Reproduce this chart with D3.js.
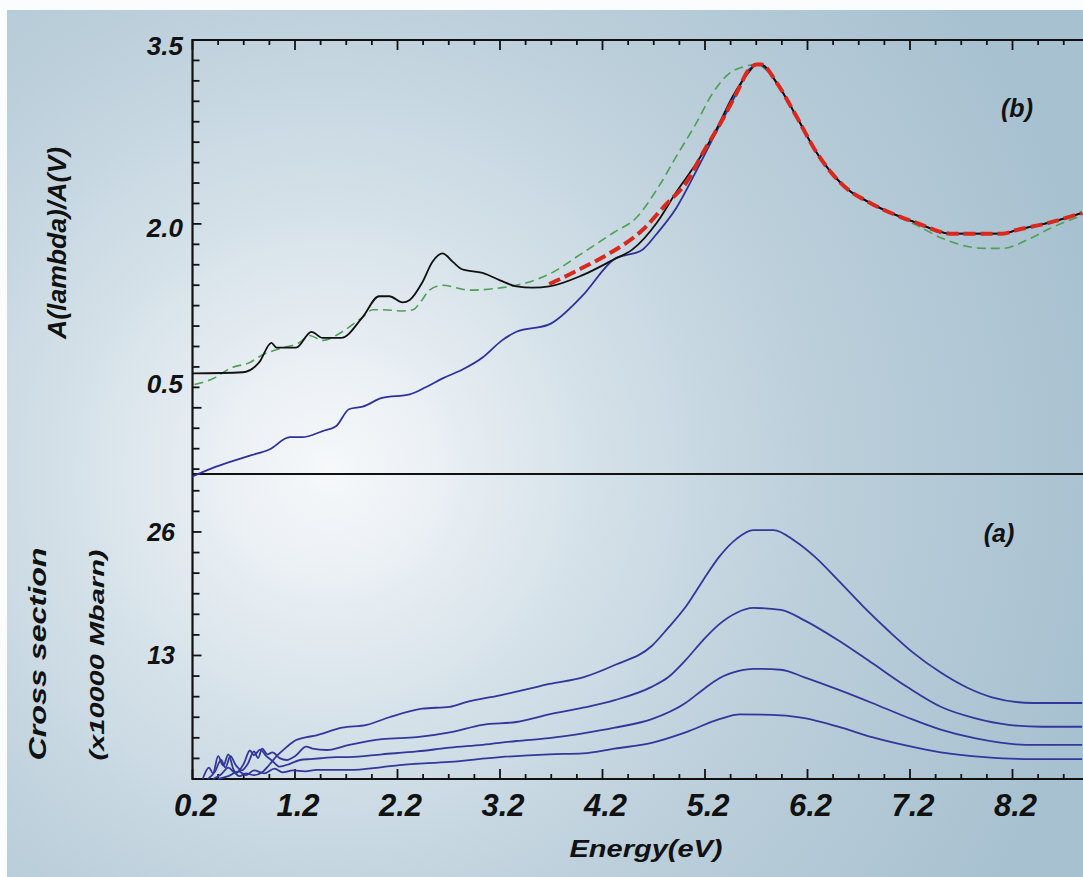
<!DOCTYPE html>
<html>
<head>
<meta charset="utf-8">
<script src="https://cdn.jsdelivr.net/npm/d3@7"></script>
<style>
  html, body { margin: 0; padding: 0; background: #fff; }
  svg { display: block; }
  text { font-family: "Liberation Sans", Arial, sans-serif; font-weight: bold; font-style: italic; fill: #111; }
</style>
</head>
<body>
<svg id="chart" width="1083" height="877"></svg>
<script>
// ---------------- DATA ----------------
const energyTicks = [0.2, 1.2, 2.2, 3.2, 4.2, 5.2, 6.2, 7.2, 8.2];
const energyTickLabels = ["0.2", "1.2", "2.2", "3.2", "4.2", "5.2", "6.2", "7.2", "8.2"];
const ratioTicks = [3.5, 2.0, 0.5];
const ratioTickLabels = ["3.5", "2.0", "0.5"];
const crossTicks = [26, 13];
const crossTickLabels = ["26", "13"];

// panel (b): A(lambda)/A(V) — [energy eV, ratio]
const overlapTail = [[5.90,3.15],[6.09,2.88],[6.29,2.58],[6.44,2.41],[6.61,2.27],[6.77,2.19],[6.93,2.12],[7.10,2.06],[7.26,2.01],[7.52,1.93],[7.59,1.92],[8.10,1.92],[8.24,1.95],[8.56,2.01],[8.88,2.09]];
const blackCurve = [[0.20,0.78],[0.69,0.79],[0.85,0.87],[0.97,1.03],[1.02,0.99],[1.15,0.99],[1.21,0.99],[1.36,1.12],[1.47,1.07],[1.65,1.07],[1.86,1.24],[2.02,1.41],[2.12,1.41],[2.25,1.36],[2.32,1.38],[2.44,1.52],[2.54,1.69],[2.64,1.76],[2.74,1.69],[2.83,1.63],[3.03,1.60],[3.20,1.54],[3.36,1.49],[3.52,1.48],[3.68,1.49],[4.00,1.58],[4.31,1.71],[4.49,1.79],[4.73,2.01],[4.92,2.26],[5.12,2.50],[5.31,2.77],[5.47,3.04],[5.63,3.24],[5.70,3.30],[5.75,3.30]];
const blueCurveB = [[0.20,-0.06],[0.43,0.02],[0.76,0.11],[0.95,0.16],[1.15,0.26],[1.27,0.26],[1.47,0.31],[1.60,0.35],[1.73,0.49],[1.86,0.51],[2.05,0.58],[2.32,0.61],[2.48,0.67],[2.64,0.74],[2.83,0.81],[3.03,0.91],[3.22,1.05],[3.36,1.12],[3.68,1.18],[4.00,1.41],[4.31,1.71],[4.59,1.79],[4.73,1.92],[4.92,2.13],[5.12,2.44],[5.31,2.75],[5.51,3.07],[5.63,3.26],[5.73,3.30]];
const redCurve = [[3.68,1.51],[3.81,1.56],[4.00,1.64],[4.27,1.76],[4.59,1.95],[4.82,2.16],[5.02,2.34],[5.18,2.58],[5.37,2.85],[5.51,3.07],[5.63,3.26],[5.70,3.30],[5.75,3.30]];
const greenCurve = [[0.22,0.69],[0.43,0.75],[0.56,0.82],[0.76,0.87],[0.88,0.93],[1.08,0.99],[1.24,1.03],[1.34,1.09],[1.47,1.05],[1.66,1.12],[1.86,1.24],[1.96,1.30],[2.05,1.30],[2.25,1.29],[2.35,1.30],[2.44,1.38],[2.51,1.46],[2.64,1.50],[2.90,1.46],[3.22,1.48],[3.46,1.52],[3.68,1.59],[4.00,1.76],[4.31,1.93],[4.53,2.05],[4.73,2.28],[4.92,2.55],[5.12,2.83],[5.27,3.06],[5.44,3.23],[5.57,3.28],[5.70,3.30],[5.90,3.15],[6.09,2.88],[6.29,2.58],[6.44,2.41],[6.61,2.27],[6.77,2.19],[6.93,2.12],[7.10,2.05],[7.26,1.99],[7.52,1.88],[7.93,1.80],[8.10,1.80],[8.37,1.88],[8.56,1.96],[8.88,2.07]];

// panel (a): cross section (x10000 Mbarn) — [energy eV, value]
const cross1 = [[0.30,0],[0.36,1.2],[0.40,0.6],[0.45,2.4],[0.50,1.4],[0.55,2.6],[0.60,1.0],[0.66,0.3],[0.72,0.6],[0.80,0.4],[0.88,0.7],[0.95,1.5],[1.02,2.4],[1.10,3.2],[1.18,3.9],[1.21,4.1],[1.27,4.3],[1.41,4.6],[1.66,5.4],[1.90,5.7],[2.12,6.5],[2.44,7.4],[2.71,7.6],[2.87,8.1],[3.20,8.8],[3.52,9.6],[3.68,10.0],[4.01,10.7],[4.32,12.0],[4.68,14.0],[4.84,15.9],[5.01,18.1],[5.18,20.9],[5.34,23.4],[5.51,25.3],[5.67,26.2],[5.87,26.2],[6.07,25.1],[6.27,23.4],[6.50,20.9],[6.74,18.2],[7.00,15.5],[7.23,13.3],[7.50,11.2],[7.76,9.6],[8.00,8.6],[8.40,8.0],[8.88,8.0]];
const cross2 = [[0.35,0],[0.42,0.8],[0.48,2.0],[0.52,1.2],[0.57,2.4],[0.62,1.5],[0.68,0.9],[0.74,1.6],[0.80,2.9],[0.84,2.2],[0.88,3.2],[0.93,2.6],[0.98,2.8],[1.05,2.2],[1.12,2.0],[1.20,2.4],[1.31,3.4],[1.37,3.2],[1.51,3.05],[1.73,3.6],[2.05,4.2],[2.39,4.4],[2.71,4.9],[3.03,5.7],[3.36,6.0],[3.68,6.8],[4.01,7.5],[4.32,8.3],[4.68,9.7],[4.84,10.7],[5.01,12.5],[5.18,14.6],[5.34,16.3],[5.51,17.5],[5.67,18.0],[5.94,17.8],[6.17,16.7],[6.50,14.6],[6.83,12.2],[7.17,9.7],[7.50,7.6],[7.83,6.4],[8.16,5.7],[8.49,5.5],[8.88,5.5]];
const cross3 = [[0.40,0],[0.48,0.5],[0.55,1.2],[0.62,0.6],[0.70,1.6],[0.76,3.0],[0.80,2.5],[0.86,3.1],[0.92,2.4],[0.98,1.9],[1.05,1.3],[1.15,1.6],[1.25,2.0],[1.35,2.1],[1.47,2.2],[1.60,2.3],[1.73,2.3],[2.05,2.6],[2.39,2.9],[2.71,3.3],[3.03,3.6],[3.36,4.0],[3.68,4.3],[4.01,4.8],[4.32,5.4],[4.68,6.3],[5.01,8.0],[5.18,9.4],[5.34,10.6],[5.54,11.4],[5.67,11.6],[5.94,11.5],[6.17,10.7],[6.50,9.4],[6.83,8.0],[7.17,6.5],[7.50,5.2],[7.83,4.3],[8.33,3.6],[8.88,3.6]];
const cross4 = [[0.45,0],[0.55,0.3],[0.65,0.8],[0.72,0.4],[0.80,0.9],[0.90,0.6],[1.00,1.1],[1.08,0.7],[1.18,0.9],[1.30,0.8],[1.41,0.95],[1.73,0.95],[2.05,1.26],[2.22,1.47],[2.71,1.8],[3.20,2.3],[3.68,2.6],[4.01,2.7],[4.32,3.2],[4.68,3.8],[5.01,4.9],[5.34,6.3],[5.54,6.8],[5.94,6.7],[6.17,6.4],[6.50,5.5],[6.83,4.4],[7.17,3.5],[7.50,2.8],[7.93,2.3],[8.33,2.1],[8.88,2.1]];

// ---------------- DRAWING ----------------
const svg = d3.select("#chart");
const W = 1083, H = 877;

const defs = svg.append("defs");
const rg = defs.append("radialGradient").attr("id", "bg")
  .attr("gradientUnits", "userSpaceOnUse")
  .attr("cx", 330).attr("cy", 470).attr("r", 780);
[[0, "#f6f8fa"], [0.12, "#ecf1f5"], [0.35, "#d3e0e8"], [0.62, "#bccfdb"], [1, "#a8c1d0"]]
  .forEach(([o, c]) => rg.append("stop").attr("offset", o).attr("stop-color", c));

svg.append("rect").attr("width", W).attr("height", H).attr("fill", "url(#bg)");
svg.append("rect").attr("width", W).attr("height", 10).attr("fill", "#fbfcfd");
svg.append("rect").attr("width", 7).attr("height", H).attr("fill", "#fbfcfd");

const left = 192.5, topY = 40, midY = 474, botY = 779;
const x = d3.scaleLinear().domain([0.2, 9.2]).range([left, left + 922.5]);
const yTop = d3.scaleLinear().domain([-0.04, 3.5]).range([midY, topY]);
const yBot = d3.scaleLinear().domain([0, 32.1]).range([botY, midY]);

// frame lines
const frame = svg.append("g").attr("stroke", "#111").attr("stroke-width", 2.2).attr("fill", "none");
frame.append("line").attr("x1", left).attr("x2", W + 5).attr("y1", topY).attr("y2", topY);
frame.append("line").attr("x1", left).attr("x2", W + 5).attr("y1", midY).attr("y2", midY);
frame.append("line").attr("x1", left).attr("x2", W + 5).attr("y1", botY).attr("y2", botY);
frame.append("line").attr("x1", left).attr("x2", left).attr("y1", topY - 1).attr("y2", botY + 1);

// x ticks (top border pointing down, bottom axis pointing up)
const minorE = d3.range(0.2, 9.0, 0.25);
const tk = svg.append("g").attr("stroke", "#111").attr("stroke-width", 1.8);
minorE.forEach((e, i) => {
  const major = i % 4 === 0;
  const len = major ? 10 : 5;
  tk.append("line").attr("x1", x(e)).attr("x2", x(e)).attr("y1", topY).attr("y2", topY + len);
  tk.append("line").attr("x1", x(e)).attr("x2", x(e)).attr("y1", botY).attr("y2", botY - len);
});
// y ticks top panel: every 1/6
d3.range(0, 22).forEach(i => {
  const v = i / 6;
  if (v > 3.5 + 1e-6) return;
  const major = Math.abs((v - 0.5) / 1.5 - Math.round((v - 0.5) / 1.5)) < 1e-6;
  tk.append("line").attr("x1", left).attr("x2", left + (major ? 9 : 7)).attr("y1", yTop(v)).attr("y2", yTop(v));
});
// y ticks bottom panel: every 13/6
d3.range(1, 15).forEach(i => {
  const v = i * 13 / 6;
  const major = i % 6 === 0;
  tk.append("line").attr("x1", left).attr("x2", left + (major ? 9 : 7)).attr("y1", yBot(v)).attr("y2", yBot(v));
});

// tick labels
svg.append("g").selectAll("text").data(energyTicks).join("text")
  .attr("x", d => x(d) + 3).attr("y", 816)
  .attr("text-anchor", "middle").attr("font-size", 31)
  .text((d, i) => energyTickLabels[i]);

const ratioNudge = { "3.5": 15, "2.0": 13, "0.5": -15 };
svg.append("g").selectAll("text").data(ratioTicks).join("text")
  .attr("x", 183).attr("y", (d, i) => yTop(d) + ratioNudge[ratioTickLabels[i]])
  .attr("text-anchor", "end").attr("font-size", 26)
  .text((d, i) => ratioTickLabels[i]);

svg.append("g").selectAll("text").data(crossTicks).join("text")
  .attr("x", 175).attr("y", d => yBot(d) + 9)
  .attr("text-anchor", "end").attr("font-size", 25)
  .text((d, i) => crossTickLabels[i]);

// axis titles
svg.append("text").attr("x", 646).attr("y", 857).attr("text-anchor", "middle")
  .attr("font-size", 24).attr("textLength", 153).attr("lengthAdjust", "spacingAndGlyphs").text("Energy(eV)");
svg.append("text").attr("transform", "translate(66,243) rotate(-90)").attr("text-anchor", "middle")
  .attr("font-size", 26).attr("textLength", 192).attr("lengthAdjust", "spacingAndGlyphs").text("A(lambda)/A(V)");
svg.append("text").attr("transform", "translate(46,654) rotate(-90)").attr("text-anchor", "middle")
  .attr("font-size", 24).attr("textLength", 213).attr("lengthAdjust", "spacingAndGlyphs").text("Cross section");
svg.append("text").attr("transform", "translate(104,655) rotate(-90)").attr("text-anchor", "middle")
  .attr("font-size", 21).attr("textLength", 211).attr("lengthAdjust", "spacingAndGlyphs").text("(x10000 Mbarn)");

// panel labels
svg.append("text").attr("x", 1017).attr("y", 117).attr("text-anchor", "middle").attr("font-size", 25).text("(b)");
svg.append("text").attr("x", 999).attr("y", 542).attr("text-anchor", "middle").attr("font-size", 25).text("(a)");

// curves
const lineTop = d3.line().x(d => x(d[0])).y(d => yTop(d[1])).curve(d3.curveMonotoneX);
const lineBot = d3.line().x(d => x(d[0])).y(d => yBot(d[1])).curve(d3.curveMonotoneX);

const curves = svg.append("g").attr("fill", "none").attr("stroke-linejoin", "round");
[cross1, cross2, cross3, cross4].forEach(s => {
  curves.append("path").attr("d", lineBot(s)).attr("stroke", "#33369a").attr("stroke-width", 1.8);
});

curves.append("path").attr("d", lineTop(greenCurve)).attr("stroke", "#4f9f55").attr("stroke-width", 1.6)
  .attr("stroke-dasharray", "9,5");
curves.append("path").attr("d", lineTop(blueCurveB.concat(overlapTail))).attr("stroke", "#2d3199").attr("stroke-width", 1.8);
curves.append("path").attr("d", lineTop(blackCurve.concat(overlapTail))).attr("stroke", "#111").attr("stroke-width", 1.8);
curves.append("path").attr("d", lineTop(redCurve.concat(overlapTail))).attr("stroke", "#d9281c").attr("stroke-width", 4)
  .attr("stroke-dasharray", "12,5");
</script>
</body>
</html>
